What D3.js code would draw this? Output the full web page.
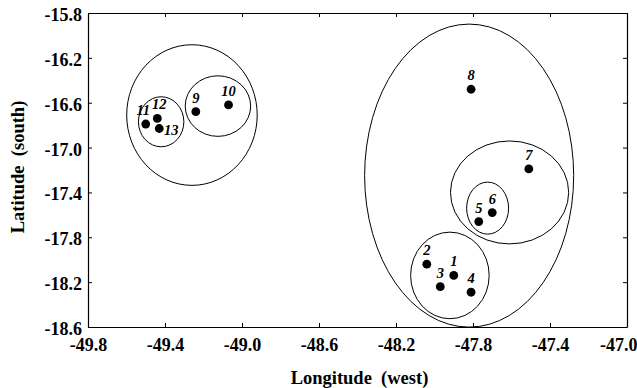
<!DOCTYPE html>
<html>
<head>
<meta charset="utf-8">
<script src="https://cdnjs.cloudflare.com/ajax/libs/d3/7.8.5/d3.min.js"></script>
<style>
  body { margin: 0; background: #fff; }
  svg text { font-family: "Liberation Serif", "Times New Roman", serif; font-weight: bold; }
  .axis path { stroke: #000; stroke-width: 1.2; }
  .axis line { stroke: #000; }
  .site-label { font-style: italic; font-size: 14.5px; }
</style>
</head>
<body>
<div id="chart"></div>
<script>
// sampling sites
var siteIds = [1, 2, 3, 4, 5, 6, 7, 8, 9, 10, 11, 12, 13];
var siteLon = [-47.90, -48.04, -47.97, -47.81, -47.77, -47.70, -47.51, -47.81, -49.24, -49.07, -49.50, -49.44, -49.43];
var siteLat = [-18.14, -18.04, -18.24, -18.29, -17.66, -17.58, -17.19, -16.48, -16.68, -16.62, -16.79, -16.74, -16.83];
var labelRight = [13];

// cluster ellipses (centre and half-widths in degrees)
var clusterLon = [-49.26, -49.42, -49.125, -47.82, -47.61, -47.724, -47.92];
var clusterLat = [-16.71, -16.77, -16.63, -17.25, -17.40, -17.54, -18.14];
var clusterRLon = [0.339, 0.118, 0.170, 0.543, 0.307, 0.109, 0.204];
var clusterRLat = [0.627, 0.223, 0.270, 1.351, 0.459, 0.232, 0.386];

var xTicks = [-49.8, -49.4, -49.0, -48.6, -48.2, -47.8, -47.4, -47.0];
var yTicks = [-15.8, -16.2, -16.6, -17.0, -17.4, -17.8, -18.2, -18.6];

var margin = {top: 13, right: 10, bottom: 61, left: 88},
    width = 637 - margin.left - margin.right,
    height = 388 - margin.top - margin.bottom;

var svg = d3.select("#chart").append("svg")
    .attr("width", width + margin.left + margin.right)
    .attr("height", height + margin.top + margin.bottom)
    .append("g")
    .attr("transform", "translate(" + margin.left + "," + margin.top + ")");

var x = d3.scaleLinear().domain([-49.8, -47.0]).range([0, width]);
var y = d3.scaleLinear().domain([-18.6, -15.8]).range([height, 0]);

var fmt = function(d) { return d.toFixed(1); };

// axes with inward ticks on all four sides
var xAxisGroup = svg.append("g")
    .attr("class", "axis")
    .attr("transform", "translate(0," + height + ")")
    .call(d3.axisBottom(x).tickValues(xTicks).tickFormat(fmt).tickSizeInner(-4).tickSizeOuter(0).tickPadding(11));

xAxisGroup.selectAll("text")
    .attr("font-size", 18)
    .attr("fill", "#000");

// last label pulled in so it stays inside the page
xAxisGroup.selectAll(".tick:last-of-type text")
    .attr("text-anchor", "end")
    .attr("x", 10);

svg.append("g")
    .attr("class", "axis")
    .call(d3.axisLeft(y).tickValues(yTicks).tickFormat(fmt).tickSizeInner(-4).tickSizeOuter(0).tickPadding(6))
    .selectAll("text")
    .attr("font-size", 18)
    .attr("dy", "0.42em")
    .attr("fill", "#000");

svg.append("g")
    .attr("class", "axis")
    .call(d3.axisTop(x).tickValues(xTicks).tickFormat("").tickSizeInner(-4).tickSizeOuter(0));

svg.append("g")
    .attr("class", "axis")
    .attr("transform", "translate(" + width + ",0)")
    .call(d3.axisRight(y).tickValues(yTicks).tickFormat("").tickSizeInner(-4).tickSizeOuter(0));

// axis titles
svg.append("text")
    .attr("x", width / 2 + 2)
    .attr("y", height + 57)
    .attr("text-anchor", "middle")
    .attr("font-size", 18.5)
    .attr("xml:space", "preserve")
    .text("Longitude  (west)");

svg.append("text")
    .attr("transform", "rotate(-90)")
    .attr("x", -height / 2 + 3)
    .attr("y", -64)
    .attr("text-anchor", "middle")
    .attr("font-size", 18.5)
    .attr("xml:space", "preserve")
    .text("Latitude  (south)");

// cluster ellipses
var clusters = clusterLon.map(function(d, i) { return i; });
svg.selectAll("ellipse.cluster")
    .data(clusters)
    .enter()
    .append("ellipse")
    .attr("class", "cluster")
    .attr("cx", function(i) { return x(clusterLon[i]); })
    .attr("cy", function(i) { return y(clusterLat[i]); })
    .attr("rx", function(i) { return x(clusterLon[i] + clusterRLon[i]) - x(clusterLon[i]); })
    .attr("ry", function(i) { return y(clusterLat[i]) - y(clusterLat[i] + clusterRLat[i]); })
    .attr("fill", "none")
    .attr("stroke", "#000")
    .attr("stroke-width", 1);

// sites
svg.selectAll("circle.site")
    .data(siteIds)
    .enter()
    .append("circle")
    .attr("class", "site")
    .attr("cx", function(d, i) { return x(siteLon[i]); })
    .attr("cy", function(d, i) { return y(siteLat[i]); })
    .attr("r", 4.4)
    .attr("fill", "#000");

// 11 and 12 sit close together, spread their labels a bit
var nudge = {11: -2.5, 12: 2};

svg.selectAll("text.site-label")
    .data(siteIds)
    .enter()
    .append("text")
    .attr("class", "site-label")
    .attr("text-anchor", "middle")
    .attr("x", function(d, i) {
        return x(siteLon[i]) + (labelRight.indexOf(d) >= 0 ? 12 : 0) + (nudge[d] || 0);
    })
    .attr("y", function(d, i) {
        return y(siteLat[i]) + (labelRight.indexOf(d) >= 0 ? 6 : -9);
    })
    .text(function(d) { return d; });
</script>
</body>
</html>
